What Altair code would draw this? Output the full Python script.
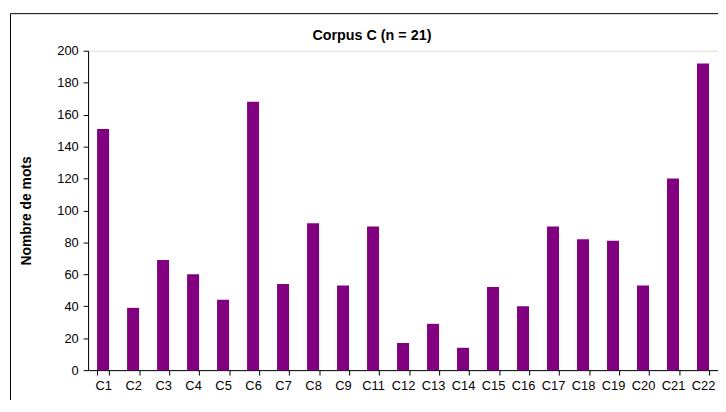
import altair as alt
import pandas as pd

categories = ["C1", "C2", "C3", "C4", "C5", "C6", "C7", "C8", "C9", "C11", "C12",
              "C13", "C14", "C15", "C16", "C17", "C18", "C19", "C20", "C21", "C22"]
values = [151, 39, 69, 60, 44, 168, 54, 92, 53, 90, 17, 29, 14, 52, 40, 90, 82, 81, 53, 120, 192]
y_ticks = [0, 20, 40, 60, 80, 100, 120, 140, 160, 180, 200]
title_text = "Corpus C (n = 21)"
y_title = "Nombre de mots"

df = pd.DataFrame({"cat": categories, "val": values})
FONT = "Liberation Sans"
W, H = 637, 323

bars = alt.Chart(df).mark_bar(color="#800080").encode(
    x=alt.X("cat:N", sort=categories,
            scale=alt.Scale(paddingInner=0.6, paddingOuter=0.3),
            axis=alt.Axis(title=None, labelAngle=0, tickBand="extent",
                          tickSize=5, labelPadding=5, labelFontSize=13,
                          labelFont=FONT, labelColor="black",
                          domainColor="black", tickColor="black", grid=False)),
    y=alt.Y("val:Q", scale=alt.Scale(domain=[0, 200], nice=False),
            axis=alt.Axis(title=y_title, values=y_ticks, tickSize=5, labelPadding=5,
                          labelFontSize=13, labelFont=FONT, labelColor="black",
                          domainColor="black", tickColor="black", grid=False,
                          titleFont=FONT, titleFontSize=14, titleFontWeight="bold",
                          titleColor="black", titleAngle=-90, titleX=-62, titleY=H / 2,
                          titleAlign="center", titleBaseline="middle")),
)

one = pd.DataFrame({"a": [0]})
frame = alt.Chart(one).mark_rect(fillOpacity=0, stroke="black", strokeWidth=1).encode(
    x=alt.value(-78.5), x2=alt.value(W + 60), y=alt.value(-37.5), y2=alt.value(H + 80)
)
title = alt.Chart(one).mark_text(font=FONT, fontSize=14.5, fontWeight="bold",
                                 color="black", align="center", baseline="alphabetic").encode(
    x=alt.value(287), y=alt.value(-11), text=alt.value(title_text)
)

chart = alt.layer(frame, bars, title).properties(
    width=W, height=H,
    autosize=alt.AutoSizeParams(type="none"),
    padding={"left": 81, "top": 41, "right": 0, "bottom": 28},
).configure_view(stroke=None).configure(background="white")

chart.save("out.html", embed_options={"renderer": "svg", "actions": False})
